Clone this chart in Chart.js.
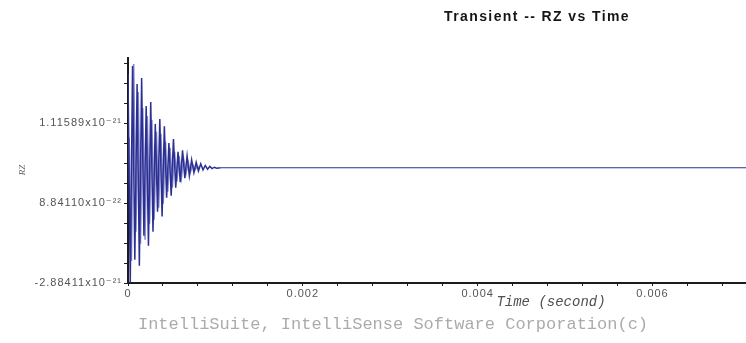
<!DOCTYPE html>
<html>
<head>
<meta charset="utf-8">
<title>Transient -- RZ vs Time</title>
<script src="https://cdn.jsdelivr.net/npm/chart.js@4/dist/chart.umd.min.js"></script>
<style>
  html, body { margin: 0; padding: 0; background: #fff; }
  #wrap { width: 746px; height: 343px; position: relative; }
</style>
</head>
<body>
<div id="wrap"><canvas id="chartRZ" width="746" height="343"></canvas></div>
<script>
// ===== DATA =====
// time (second) of each sample
const timeSec = [
  0, 0.000026, 0.000052, 0.000078, 0.000104, 0.000130, 0.000156, 0.000182,
  0.000208, 0.000234, 0.000260, 0.000286, 0.000312, 0.000338, 0.000364, 0.000390,
  0.000416, 0.000442, 0.000468, 0.000494, 0.000520, 0.000546, 0.000572, 0.000598,
  0.000624, 0.000650, 0.000676, 0.000702, 0.000728, 0.000754, 0.000780, 0.000806,
  0.000832, 0.000858, 0.000884, 0.000910, 0.000936, 0.000962, 0.000988, 0.001014,
  0.00106, 0.00707
];
// RZ, in units of 1e-21
const rzE21 = [
  2.35, -2.88, 2.55, -2.30, 2.10, -2.45, 2.25, -1.70,
  1.55, -1.95, 1.65, -1.60, 1.10, -1.10, 1.22, -1.22,
  1.04, -0.75, 0.62, -0.70, 0.72, -0.50, 0.40, -0.36,
  0.44, -0.26, 0.30, -0.20, 0.20, -0.12, 0.14, -0.08,
  0.10, -0.05, 0.06, -0.035, 0.035, -0.02, 0.015, -0.008,
  0, 0
];
// in-between samples (lighter trace)
const innerTimeSec = [
  0.000013, 0.000039, 0.000065, 0.000091, 0.000117, 0.000143, 0.000169, 0.000195,
  0.000221, 0.000247, 0.000273, 0.000299, 0.000325, 0.000351, 0.000377, 0.000403,
  0.000429, 0.000455, 0.000481, 0.000507, 0.000533, 0.000559, 0.000585, 0.000611,
  0.000637, 0.000663, 0.000689, 0.000715, 0.000741, 0.000767, 0.000793, 0.000819
];
const rzInnerE21 = [
  0.76, -2.33, 2.60, -1.60, 1.90, -1.90, 1.50, -1.80,
  1.30, -1.40, 1.20, -1.30, 0.90, -1.00, 0.85, -0.90,
  0.65, -0.60, 0.50, -0.50, 0.40, -0.35, 0.30, -0.25,
  0.22, -0.15, 0.14, -0.10, 0.08, -0.05, 0.04, 0
];

// axis ticks (y in units of 1e-21)
const yTicks = [-2.88411, -2.38411, -1.88411, -1.38411, -0.88411, -0.38411,
  0.11589, 0.61589, 1.11589, 1.61589, 2.11589, 2.61589];
const yTickLabels = { '-2.88411': '-2.88411x10⁻²¹', '-0.88411': '8.84110x10⁻²²', '1.11589': '1.11589x10⁻²¹' };
const xTicks = [0, 0.0004, 0.0008, 0.0012, 0.0016, 0.002, 0.0024, 0.0028, 0.0032, 0.0036,
  0.004, 0.0044, 0.0048, 0.0052, 0.0056, 0.006, 0.0064, 0.0068];
const xTickLabels = { '0': '0', '0.002': '0.002', '0.004': '0.004', '0.006': '0.006' };

const X_MIN = 0, X_MAX = 0.00707;
const Y_MIN = -2.88411, Y_MAX = 2.75;
const SETTLED = 0.00106; // after this the trace is flat

const LINE = '#2c2f92';
const LINE_LIGHT = '#8588cc';
const AXIS = '#1c1c1c';
const TICK_TEXT = '#555';

// ===== EXTRA TEXT =====
const captions = {
  id: 'captions',
  beforeDraw(chart) {
    // spaced-out tick text
    chart.ctx.letterSpacing = '1px';
  },
  afterDraw(chart) {
    const ctx = chart.ctx;
    ctx.save();
    ctx.textAlign = 'center';
    ctx.textBaseline = 'alphabetic';

    ctx.letterSpacing = '1.4px';
    ctx.fillStyle = '#151515';
    ctx.font = "bold 14px 'Liberation Sans', Arial, sans-serif";
    ctx.fillText('Transient -- RZ vs Time', 537, 21);

    ctx.letterSpacing = '0px';
    ctx.fillStyle = '#505050';
    ctx.font = "italic 14px 'Liberation Mono', 'Courier New', monospace";
    ctx.fillText('Time (second)', 551, 306);

    ctx.fillStyle = '#ababab';
    ctx.font = "17px 'Liberation Mono', 'Courier New', monospace";
    ctx.fillText('IntelliSuite, IntelliSense Software Corporation(c)', 393, 329);

    // rotated y title
    ctx.translate(22, 170);
    ctx.rotate(-Math.PI / 2);
    ctx.fillStyle = '#666';
    ctx.font = "italic 9px 'Liberation Serif', serif";
    ctx.fillText('RZ', 0, 3);
    ctx.restore();
  }
};

// ===== CHART =====
new Chart(document.getElementById('chartRZ'), {
  type: 'line',
  data: {
    datasets: [{
      data: timeSec.map((t, i) => ({ x: t, y: rzE21[i] })),
      borderColor: LINE,
      borderWidth: 1.5,
      segment: { borderWidth: c => c.p0.parsed.x >= SETTLED ? 1.1 : undefined },
      pointRadius: 0,
      tension: 0,
      fill: false
    }, {
      data: innerTimeSec.map((t, i) => ({ x: t, y: rzInnerE21[i] })),
      borderColor: LINE_LIGHT,
      borderWidth: 1.5,
      pointRadius: 0,
      tension: 0,
      fill: false
    }]
  },
  options: {
    responsive: false,
    animation: false,
    layout: { padding: { top: 58, right: 0, left: 0, bottom: 0 } },
    plugins: { legend: { display: false }, tooltip: { enabled: false }, title: { display: false } },
    scales: {
      x: {
        type: 'linear', min: X_MIN, max: X_MAX,
        afterBuildTicks: s => { s.ticks = xTicks.map(v => ({ value: v })); },
        afterFit: s => { s.height = 60; },
        ticks: {
          autoSkip: false, maxRotation: 0, padding: 1,
          color: TICK_TEXT, font: { family: "'Liberation Sans', Arial, sans-serif", size: 11 },
          callback: v => xTickLabels[String(v)] || ''
        },
        grid: { drawOnChartArea: false, drawTicks: true, tickLength: 3, color: AXIS, lineWidth: 1 },
        border: { display: true, color: AXIS, width: 2 }
      },
      y: {
        type: 'linear', min: Y_MIN, max: Y_MAX,
        afterBuildTicks: s => { s.ticks = yTicks.map(v => ({ value: v })); },
        afterFit: s => { s.width = 128; },
        ticks: {
          autoSkip: false, padding: 2,
          color: TICK_TEXT, font: { family: "'Liberation Sans', 'DejaVu Sans', sans-serif", size: 11 },
          callback: v => yTickLabels[String(v)] || ''
        },
        grid: { drawOnChartArea: false, drawTicks: true, tickLength: 4, color: AXIS, lineWidth: 1 },
        border: { display: true, color: AXIS, width: 2 }
      }
    }
  },
  plugins: [captions]
});
</script>
</body>
</html>
